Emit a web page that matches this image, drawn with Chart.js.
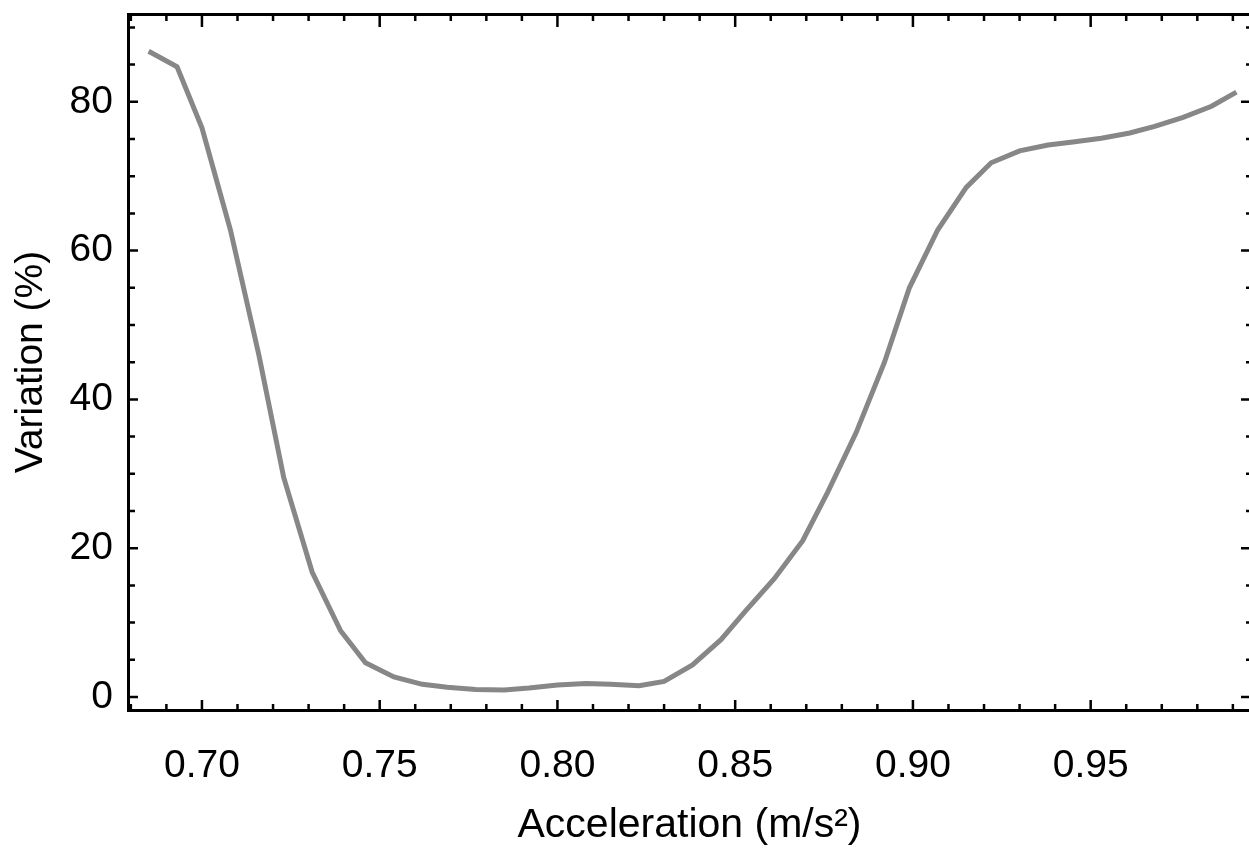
<!DOCTYPE html>
<html>
<head>
<meta charset="utf-8">
<script src="https://cdn.jsdelivr.net/npm/chart.js@4.4.1/dist/chart.umd.min.js"></script>
<style>
  html, body { margin: 0; padding: 0; background: #ffffff; overflow: hidden; }
  canvas { display: block; }
</style>
</head>
<body>
<canvas id="c" width="1252" height="850"></canvas>
<script>
// ---- data ----
const accel = [0.685, 0.693, 0.700, 0.708, 0.716, 0.723, 0.731, 0.739, 0.746, 0.754,
               0.762, 0.769, 0.777, 0.785, 0.792, 0.800, 0.808, 0.815, 0.823, 0.830,
               0.838, 0.846, 0.853, 0.861, 0.869, 0.876, 0.884, 0.892, 0.899, 0.907,
               0.915, 0.922, 0.930, 0.938, 0.945, 0.953, 0.961, 0.968, 0.976, 0.984, 0.991];
const variation = [86.8, 84.7, 76.5, 62.8, 46.0, 29.5, 16.8, 8.9, 4.6, 2.7,
                   1.7, 1.3, 1.0, 0.95, 1.2, 1.6, 1.8, 1.7, 1.5, 2.1,
                   4.3, 7.7, 11.6, 15.9, 21.0, 27.5, 35.5, 45.0, 55.0, 62.8,
                   68.5, 71.8, 73.4, 74.2, 74.6, 75.1, 75.8, 76.7, 77.9, 79.4, 81.3];
const xTickLabels = ['0.70', '0.75', '0.80', '0.85', '0.90', '0.95'];
const yTickLabels = ['0', '20', '40', '60', '80'];
const xTitle = 'Acceleration (m/s\u00B2)';
const yTitle = 'Variation (%)';

const points = accel.map((a, i) => ({ x: a, y: variation[i] }));

const X_MIN = 0.6792, X_MAX = 0.9951;
const Y_MIN = -1.75, Y_MAX = 91.8;
const FONT = "'Liberation Sans', Arial, Helvetica, sans-serif";

function xLabel(v) {
  const s = v.toFixed(2);
  return xTickLabels.includes(s) ? s : '';
}
function yLabel(v) {
  const s = String(Math.round(v));
  return (Math.abs(v - Math.round(v)) < 1e-6 && yTickLabels.includes(s)) ? s : '';
}
function fixSize(prop, val) {
  return (s) => {
    s[prop] = val;
    s.paddingTop = 0; s.paddingBottom = 0; s.paddingLeft = 0; s.paddingRight = 0;
  };
}

// inward tick marks (Mathematica-style frame ticks) on all four sides
const frameTicks = {
  id: 'frameTicks',
  afterDraw(chart) {
    const { ctx, chartArea: ca } = chart;
    const xs = chart.scales.x, ys = chart.scales.y;
    ctx.save();
    ctx.strokeStyle = '#000';
    ctx.lineWidth = 2.5;
    ctx.lineCap = 'butt';
    ctx.beginPath();
    xs.ticks.forEach(t => {
      const px = xs.getPixelForValue(t.value);
      const major = xLabel(t.value) !== '';
      const lb = major ? 10 : 6, lt = major ? 13 : 7;
      ctx.moveTo(px, ca.bottom); ctx.lineTo(px, ca.bottom - lb);
      ctx.moveTo(px, ca.top); ctx.lineTo(px, ca.top + lt);
    });
    ys.ticks.forEach(t => {
      const py = ys.getPixelForValue(t.value);
      const major = yLabel(t.value) !== '';
      const l = major ? 10 : 7;
      ctx.moveTo(ca.left, py); ctx.lineTo(ca.left + l, py);
      ctx.moveTo(ca.right, py); ctx.lineTo(ca.right - (major ? 10 : 5), py);
    });
    ctx.stroke();
    ctx.restore();
  }
};

new Chart(document.getElementById('c'), {
  type: 'line',
  data: {
    datasets: [{
      data: points,
      borderColor: '#878787',
      borderWidth: 5,
      pointRadius: 0,
      tension: 0,
      fill: false
    }]
  },
  options: {
    responsive: false,
    animation: false,
    layout: { padding: { top: 14, right: 1, left: 0, bottom: 0 } },
    plugins: { legend: { display: false }, tooltip: { enabled: false } },
    scales: {
      x: {
        type: 'linear', position: 'bottom',
        min: X_MIN, max: X_MAX,
        grid: { display: false, drawTicks: false },
        border: { display: true, color: '#000', width: 3 },
        ticks: {
          stepSize: 0.01, includeBounds: false, autoSkip: false, maxRotation: 0,
          padding: 33, color: '#000',
          font: { family: FONT, size: 39 },
          callback: (v) => xLabel(v)
        },
        title: {
          display: true, text: xTitle, color: '#000',
          font: { family: FONT, size: 41 }, padding: { top: 0, bottom: 0 }
        },
        afterFit: fixSize('height', 140)
      },
      x2: {
        type: 'linear', position: 'top',
        min: X_MIN, max: X_MAX,
        grid: { display: false, drawTicks: false },
        border: { display: true, color: '#000', width: 3 },
        ticks: { display: false },
        afterFit: fixSize('height', 0)
      },
      y: {
        type: 'linear', position: 'left',
        min: Y_MIN, max: Y_MAX,
        grid: { display: false, drawTicks: false },
        border: { display: true, color: '#000', width: 3 },
        ticks: {
          stepSize: 5, includeBounds: false, autoSkip: false,
          padding: 15, color: '#000',
          font: { family: FONT, size: 39 },
          callback: (v) => yLabel(v)
        },
        title: {
          display: true, text: yTitle, color: '#000',
          font: { family: FONT, size: 39 }, padding: { top: 8, bottom: 0 }
        },
        afterFit: fixSize('width', 128)
      },
      y2: {
        type: 'linear', position: 'right',
        min: Y_MIN, max: Y_MAX,
        grid: { display: false, drawTicks: false },
        border: { display: true, color: '#000', width: 3 },
        ticks: { display: false },
        afterFit: fixSize('width', 0)
      }
    }
  },
  plugins: [frameTicks]
});
</script>
</body>
</html>
